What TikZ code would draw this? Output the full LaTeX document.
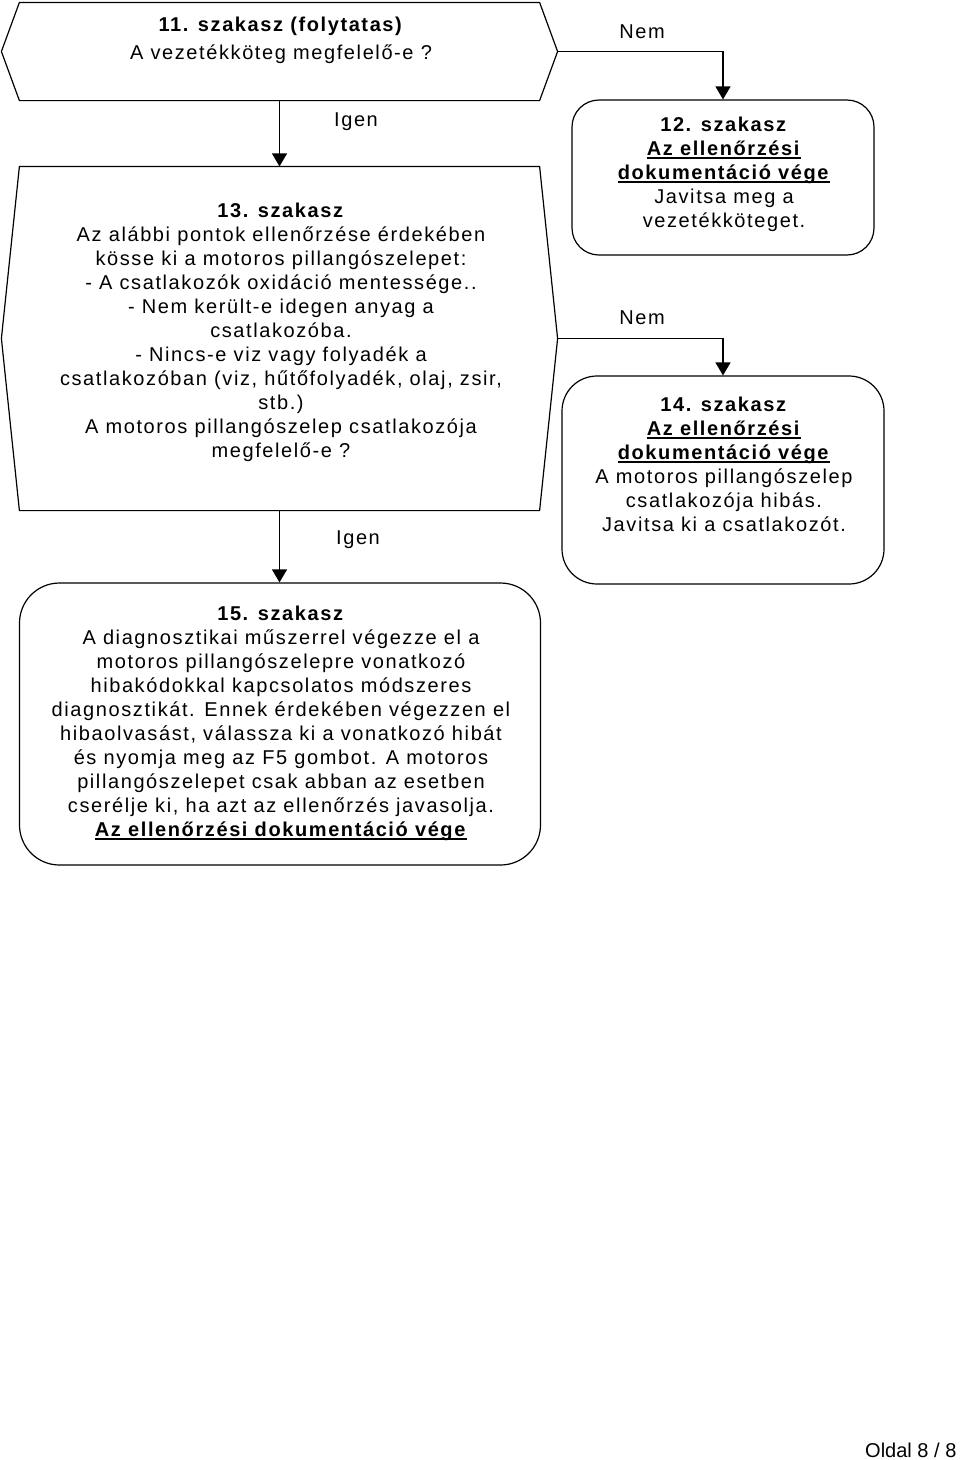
\documentclass[tikz,border=0pt]{standalone}
\usepackage{fontspec}
\setmainfont[LetterSpace=8]{Liberation Sans}
\newfontfamily\plainfont{Liberation Sans}
\usetikzlibrary{arrows.meta,positioning,calc}

\def\tipsep{18}
\newcommand{\ulbox}[1]{\setbox0\hbox{#1}\rlap{\rule[-3.5pt]{\wd0}{1.5pt}}\box0}

\begin{document}
\begin{tikzpicture}[x=1pt,y=-1pt,line width=1.2pt,>={Triangle[width=15pt,length=13pt]}]
    \tikzstyle{every node}=[font=\fontsize{20}{24}\selectfont]
    \tikzstyle{frame}=[rectangle,draw=none,inner sep=0pt]
    \tikzstyle{endbox}=[rectangle,draw,inner sep=0pt]
    \tikzstyle{txt}=[align=center,inner sep=0pt]
    \tikzstyle{lbl}=[inner sep=0pt]

    \useasboundingbox (0,0) rectangle (960,1460);

    % question shapes
    \node[frame,minimum width=519pt,minimum height=97pt] (q11) at (279.5,51.5) {};
    \node[frame,minimum width=519pt,minimum height=343pt] (q13) at (279.5,338.5) {};
    \coordinate (q11tip) at ($(q11.east)+(\tipsep,0)$);
    \coordinate (q13tip) at ($(q13.east)+(\tipsep,0)$);
    \draw (q11.north west) -- ($(q11.west)+(-\tipsep,0)$) -- (q11.south west) -- (q11.south east) -- (q11tip) -- (q11.north east) -- cycle;
    \draw (q13.north west) -- ($(q13.west)+(-\tipsep,0)$) -- (q13.south west) -- (q13.south east) -- (q13tip) -- (q13.north east) -- cycle;

    % end boxes
    \node[endbox,rounded corners=27pt,minimum width=302pt,minimum height=155pt] (b12) at (723,177.5) {};
    \node[endbox,rounded corners=35pt,minimum width=322pt,minimum height=208pt] (b14) at (723,480) {};
    \node[endbox,rounded corners=40pt,minimum width=521pt,minimum height=282pt] (b15) at (280,724) {};

    \node[txt] (t11) at (281,40) {\textbf{11. szakasz (folytatas)}\\[4pt]A vezetékköteg megfelelő-e ?};
    \node[txt] (t13) at (281,332) {\textbf{13. szakasz}\\
        Az alábbi pontok ellenőrzése érdekében\\
        kösse ki a motoros pillangószelepet:\\
        - A csatlakozók oxidáció mentessége..\\
        - Nem került-e idegen anyag a\\
        csatlakozóba.\\
        - Nincs-e viz vagy folyadék a\\
        csatlakozóban (viz, hűtőfolyadék, olaj, zsir,\\
        stb.)\\
        A motoros pillangószelep csatlakozója\\
        megfelelő-e ?};
    \node[txt] (t12) at (724,174) {\textbf{12. szakasz}\\
        \ulbox{\textbf{Az ellenőrzési}}\\
        \ulbox{\textbf{dokumentáció vége}}\\
        Javitsa meg a\\
        vezetékköteget.};
    \node[txt] (t14) at (724,464) {\textbf{14. szakasz}\\
        \ulbox{\textbf{Az ellenőrzési}}\\
        \ulbox{\textbf{dokumentáció vége}}\\
        A motoros pillangószelep\\
        csatlakozója hibás.\\
        Javitsa ki a csatlakozót.};
    \node[txt] (t15) at (281,723) {\textbf{15. szakasz}\\
        A diagnosztikai műszerrel végezze el a\\
        motoros pillangószelepre vonatkozó\\
        hibakódokkal kapcsolatos módszeres\\
        diagnosztikát. Ennek érdekében végezzen el\\
        hibaolvasást, válassza ki a vonatkozó hibát\\
        és nyomja meg az F5 gombot. A motoros\\
        pillangószelepet csak abban az esetben\\
        cserélje ki, ha azt az ellenőrzés javasolja.\\
        \ulbox{\textbf{Az ellenőrzési dokumentáció vége}}};

    % connectors
    \draw[->] (q11) -- (q13);
    \draw[->] (q13.south) -- (q13.south |- b15.north);
    \draw[->] (q11tip) -| (b12.north);
    \draw[->] (q13tip) -| (b14.north);

    \node[lbl] (igen1) at (356,122) {Igen};
    \node[lbl] (igen2) at (358,540) {Igen};
    \node[lbl] (nem1) at (642,32) {Nem};
    \node[lbl] (nem2) at (642,318) {Nem};

    \node[lbl,anchor=east] (pageno) at (957,1450) {\plainfont Oldal 8 / 8};
\end{tikzpicture}
\end{document}
